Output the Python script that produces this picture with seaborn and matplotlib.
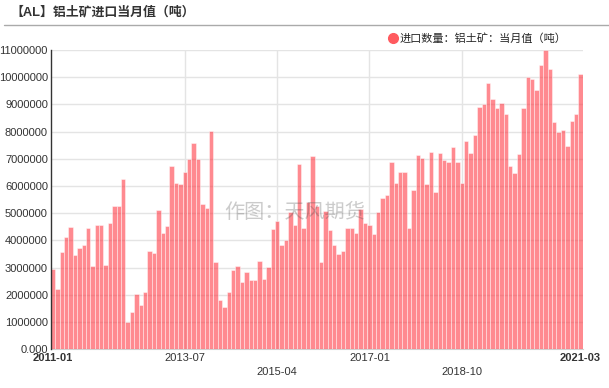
import numpy as np
import pandas as pd
import matplotlib
matplotlib.use("Agg")
import matplotlib.pyplot as plt
from matplotlib.lines import Line2D
import seaborn as sns

# monthly categories; Jan 2020 and Jan 2021 are reported together with Feb
months = list(pd.period_range("2011-01", "2021-03", freq="M").strftime("%Y-%m"))
months = [m for m in months if m not in ("2020-01", "2021-01")]

# bauxite imports, million tonnes per month
bauxite_mt = [
    2.95, 2.22, 3.57, 4.12, 4.49, 3.47, 3.73, 3.84, 4.46, 3.06, 4.58, 4.56,
    3.10, 4.64, 5.26, 5.28, 6.26, 1.02, 1.38, 2.04, 1.63, 2.12, 3.60, 3.53,
    5.12, 4.28, 4.55, 6.72, 6.13, 6.08, 6.52, 6.98, 7.58, 6.98, 5.35, 5.20,
    8.02, 3.22, 1.81, 1.57, 2.12, 2.92, 3.08, 2.48, 2.84, 2.55, 2.55, 3.24,
    2.58, 3.02, 4.44, 4.71, 3.82, 4.02, 5.05, 4.56, 6.80, 4.46, 5.40, 7.10,
    5.28, 3.22, 5.08, 4.39, 3.84, 3.49, 3.61, 4.45, 4.45, 4.26, 5.15, 4.64,
    4.57, 4.25, 5.05, 5.56, 5.66, 6.87, 6.13, 6.52, 6.52, 4.45, 5.85, 7.14,
    7.02, 6.08, 7.24, 5.78, 7.22, 6.97, 6.90, 7.43, 6.89, 6.10, 7.65, 7.22,
    7.88, 8.90, 9.03, 9.77, 9.19, 8.86, 9.06, 8.63, 6.74, 6.47, 7.19, 8.87,
    10.00, 9.93, 9.53, 10.44, 11.00, 10.32, 8.36, 7.99, 8.05, 7.49, 8.39,
    8.65, 10.11,
]

shown_months = ["2011-01", "2013-07", "2015-04", "2017-01", "2018-10", "2021-03"]
y_ticks = list(range(0, 11000001, 1000000))
y_tick_labels = ["0.000"] + [str(v) for v in y_ticks[1:]]

TITLE = "【AL】铝土矿进口当月值（吨）"
SERIES = "进口数量：铝土矿：当月值（吨）"
BAR = "#ff3c46"
GRID = "#e4e4e4"
INK = "#333333"

sns.set_theme(style="white")
plt.rcParams["font.family"] = ["Liberation Sans", "Noto Sans CJK SC"]

df = pd.DataFrame({"month": months, "value": np.array(bauxite_mt) * 1e6})

fig = plt.figure(figsize=(6.09, 3.88), dpi=100)
ax = fig.add_axes([0.0833, 0.0997, 0.8735, 0.7714])

sns.barplot(data=df, x="month", y="value", color=BAR, saturation=1,
            alpha=0.6, width=1.0, linewidth=0.5, edgecolor="white", ax=ax, zorder=3)

ax.set_xlim(-0.5, len(months) - 0.5)
ax.set_ylim(0, 11000000)
ax.set_yticks(y_ticks)
ax.set_yticklabels(y_tick_labels)
ax.yaxis.grid(True, color=GRID, linewidth=1, zorder=0)
ax.set_axisbelow(True)

pos = [months.index(m) for m in shown_months]
for p in pos[1:-1]:
    ax.axvline(p, color=GRID, linewidth=1, zorder=0)

ax.set_xticks(pos)
labels = []
for i, m in enumerate(shown_months):
    labels.append("\n" + m if i in (2, 4) else m)
ax.set_xticklabels(labels)
for i, t in enumerate(ax.get_xticklabels()):
    t.set_linespacing(1.45)
    if i in (0, len(shown_months) - 1):
        t.set_fontweight("bold")
ax.tick_params(axis="x", length=0, pad=3, labelsize=8, colors=INK)
ax.tick_params(axis="y", length=0, pad=2, labelsize=8, colors=INK)
ax.set_xlabel("")
ax.set_ylabel("")

for s in ("top", "right"):
    ax.spines[s].set_visible(False)
ax.spines["left"].set_color(INK)
ax.spines["left"].set_linewidth(1)
ax.spines["left"].set_zorder(5)
ax.spines["bottom"].set_color("#d0d0d0")
ax.spines["bottom"].set_linewidth(0.8)

fig.text(0.018, 0.968, TITLE, fontsize=9.3, fontweight="bold", color=INK, va="center")
fig.add_artist(Line2D([4 / 609, 1], [1 - 25 / 388] * 2, color="#aaaaaa", linewidth=1))

handle = Line2D([], [], marker="o", linestyle="", color="#ff5a5f", markersize=7)
fig.legend(handles=[handle], labels=[SERIES], loc="center left",
           bbox_to_anchor=(0.637, 0.8995), frameon=False, fontsize=8,
           handletextpad=0.05, handlelength=1, borderaxespad=0, borderpad=0)

fig.text(0.4844, 0.4536, "作图：天风期货", fontsize=14.5, color="#555555",
         alpha=0.3, ha="center", va="center", zorder=10)

fig.savefig("out.png", dpi=100)
plt.close(fig)
